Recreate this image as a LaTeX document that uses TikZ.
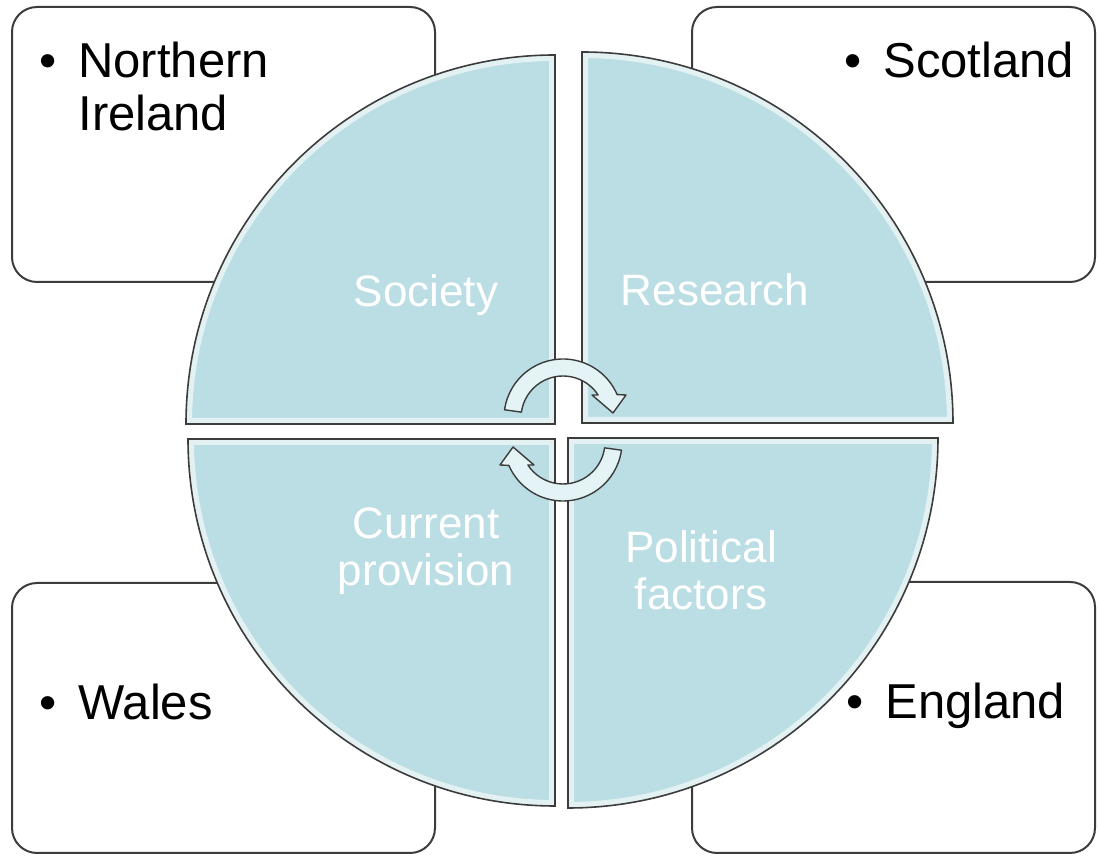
\documentclass[tikz,border=0pt]{standalone}
\usepackage{fontspec}
\setmainfont{Liberation Sans}
\usepackage{xcolor}
\usepackage{tikz}

\definecolor{quarterfill}{RGB}{186,222,227}
\definecolor{arrowfill}{RGB}{228,244,246}
\definecolor{edgegray}{RGB}{60,60,60}
\newcommand{\bulletmark}{\makebox[19.5pt][l]{\textbullet}}
\newcommand{\quarterpath}[4]{(#1,#2) -- ++(#4:#3) arc[start angle=#4, delta angle=90, radius=#3] -- cycle}
\newcommand{\cyclepath}{(172:59) arc[start angle=172, end angle=23.4, radius=59] -- (63,23) -- (50,5) -- (29,23) -- (33.2:42) arc[start angle=33.2, end angle=172, radius=42] -- cycle}

\begin{document}
\begin{tikzpicture}[x=0.5pt, y=0.5pt,
    regionbox/.style={rectangle, draw=edgegray, line width=1pt, rounded corners=12.5pt, fill=white, inner sep=0pt},
    regiontext/.style={font=\fontsize{24.5}{26.5}\selectfont, inner sep=0pt, align=left},
    quartertext/.style={font=\fontsize{22}{23.5}\selectfont, text=white, inner sep=0pt, align=center},
    cyclearrow/.style={fill=arrowfill, draw=edgegray, line width=0.7pt, line join=round}]
    \useasboundingbox (0,0) rectangle (1099,856);

    % four regions
    \node[regionbox, minimum width=211.5pt, minimum height=137.5pt] (niBox) at (223.5,711.5) {};
    \node[regionbox, minimum width=201.5pt, minimum height=137.5pt] (scotlandBox) at (893.5,711.5) {};
    \node[regionbox, minimum width=211.5pt, minimum height=135pt] (walesBox) at (223.5,138) {};
    \node[regionbox, minimum width=201.5pt, minimum height=135.5pt] (englandBox) at (893.5,138.5) {};

    \node[regiontext, anchor=north west] (northernireland) at (39,814) {\bulletmark Northern\\\hspace*{19.5pt}Ireland};
    \node[regiontext, anchor=base west] (scotland) at (844,778) {\bulletmark Scotland};
    \node[regiontext, anchor=base west] (wales) at (39,136) {\bulletmark Wales};
    \node[regiontext, anchor=base west] (england) at (846,137) {\bulletmark England};

    % quarters of the circle
    \foreach \cx/\cy/\r/\a in {555/432/369/90, 582/433/371/0, 555/417/367/180, 568/418/370/270}{
        \fill[quarterfill] \quarterpath{\cx}{\cy}{\r}{\a};
        \begin{scope}
            \clip \quarterpath{\cx}{\cy}{\r}{\a};
            \draw[white, opacity=0.6, line width=6pt] \quarterpath{\cx}{\cy}{\r}{\a};
        \end{scope}
        \draw[edgegray, line width=0.8pt] \quarterpath{\cx}{\cy}{\r}{\a};
    }

    \node[quartertext, anchor=base] (society) at (426,549) {Society};
    \node[quartertext, anchor=base] (research) at (715,550) {Research};
    \node[quartertext, anchor=north] (provision) at (426,349) {Current\\provision};
    \node[quartertext, anchor=north] (political) at (701,326) {Political\\factors};

    % cycle arrows
    \draw[cyclearrow, shift={(563,438)}] \cyclepath;
    \draw[cyclearrow, shift={(563,414)}, rotate=180] \cyclepath;
\end{tikzpicture}
\end{document}
